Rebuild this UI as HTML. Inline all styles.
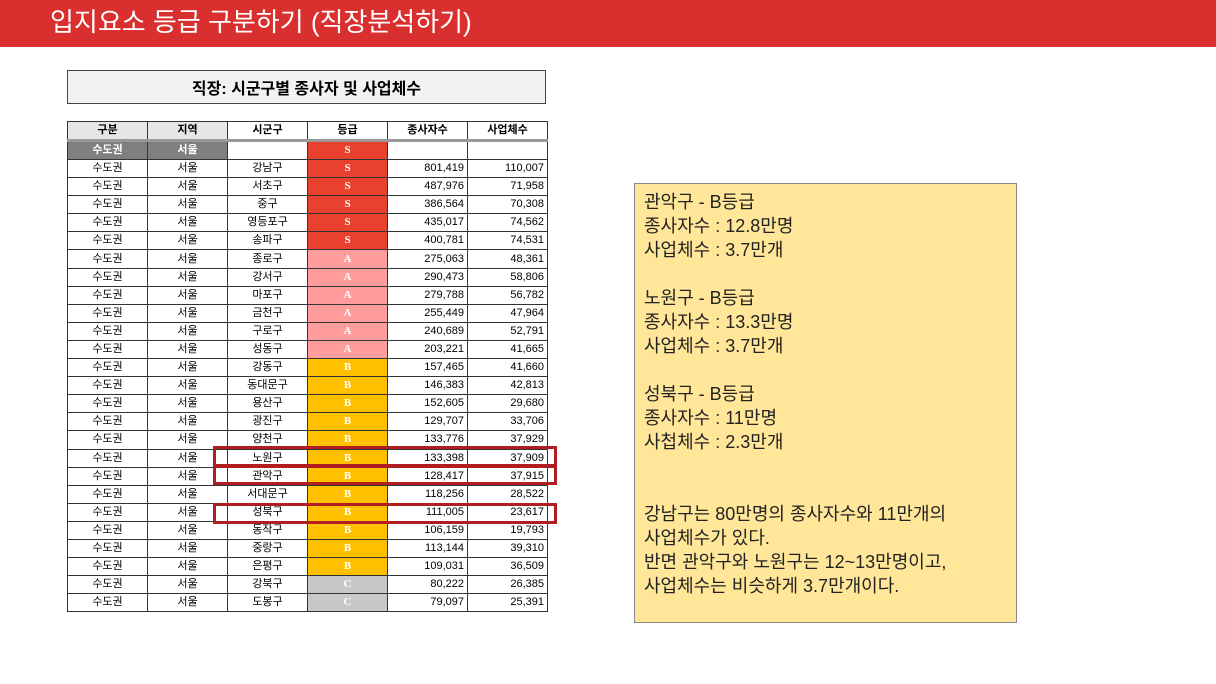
<!DOCTYPE html>
<html><head><meta charset="utf-8"><style>
body{margin:0;width:1216px;height:684px;background:#fff;position:relative;overflow:hidden;font-family:"Liberation Sans","Noto Sans CJK KR",sans-serif}
.bar{position:absolute;left:0;top:0;width:1216px;height:47px;background:#d9302f;color:#fff;font-size:26px;line-height:44px;padding-left:50px;box-sizing:border-box}
.title{position:absolute;left:67px;top:70px;width:479px;height:34px;border:1px solid #444;background:#f2f2f2;text-align:center;font-weight:bold;font-size:16px;line-height:38px;box-sizing:border-box}
table{position:absolute;left:67px;top:121px;border-collapse:collapse;font-size:11px;table-layout:fixed;width:480px}
td{width:80px;box-sizing:border-box;height:18.1px;border:1px solid #333;padding:0 3px;text-align:center;white-space:nowrap;overflow:hidden;line-height:17px}
td.n{text-align:right}
tr.h td{background:#e7e6e6;font-weight:bold;height:19px;border-bottom:3px solid #999}
tr.h td.w{background:#fff}
td.g{color:#fff;font-weight:bold;font-family:"Liberation Serif",serif}
.S{background:#e8412f}.A{background:#ff9c9c}.B{background:#ffc000}.C{background:#c8c8c8}
tr.s td.k{background:#7f7f7f;color:#fff;font-weight:bold}
.box{position:absolute;border:3px solid #b01e22;box-sizing:border-box}
.note{position:absolute;left:634px;top:183px;width:383px;height:440px;background:#ffe699;border:1px solid #888;box-sizing:border-box;padding:6px 9px;font-size:18px;line-height:24px;color:#222}
</style></head><body>
<div class="bar">입지요소 등급 구분하기 (직장분석하기)</div>
<div class="title">직장: 시군구별 종사자 및 사업체수</div>
<table>
<colgroup><col style="width:80px"><col style="width:80px"><col style="width:80px"><col style="width:80px"><col style="width:80px"><col style="width:80px"></colgroup>
<tr class="h"><td>구분</td><td>지역</td><td class="w">시군구</td><td class="w">등급</td><td class="w">종사자수</td><td class="w">사업체수</td></tr>
<tr class="s"><td class="k">수도권</td><td class="k">서울</td><td></td><td class="g S">S</td><td></td><td></td></tr>
<tr><td>수도권</td><td>서울</td><td>강남구</td><td class="g S">S</td><td class="n">801,419</td><td class="n">110,007</td></tr>
<tr><td>수도권</td><td>서울</td><td>서초구</td><td class="g S">S</td><td class="n">487,976</td><td class="n">71,958</td></tr>
<tr><td>수도권</td><td>서울</td><td>중구</td><td class="g S">S</td><td class="n">386,564</td><td class="n">70,308</td></tr>
<tr><td>수도권</td><td>서울</td><td>영등포구</td><td class="g S">S</td><td class="n">435,017</td><td class="n">74,562</td></tr>
<tr><td>수도권</td><td>서울</td><td>송파구</td><td class="g S">S</td><td class="n">400,781</td><td class="n">74,531</td></tr>
<tr><td>수도권</td><td>서울</td><td>종로구</td><td class="g A">A</td><td class="n">275,063</td><td class="n">48,361</td></tr>
<tr><td>수도권</td><td>서울</td><td>강서구</td><td class="g A">A</td><td class="n">290,473</td><td class="n">58,806</td></tr>
<tr><td>수도권</td><td>서울</td><td>마포구</td><td class="g A">A</td><td class="n">279,788</td><td class="n">56,782</td></tr>
<tr><td>수도권</td><td>서울</td><td>금천구</td><td class="g A">A</td><td class="n">255,449</td><td class="n">47,964</td></tr>
<tr><td>수도권</td><td>서울</td><td>구로구</td><td class="g A">A</td><td class="n">240,689</td><td class="n">52,791</td></tr>
<tr><td>수도권</td><td>서울</td><td>성동구</td><td class="g A">A</td><td class="n">203,221</td><td class="n">41,665</td></tr>
<tr><td>수도권</td><td>서울</td><td>강동구</td><td class="g B">B</td><td class="n">157,465</td><td class="n">41,660</td></tr>
<tr><td>수도권</td><td>서울</td><td>동대문구</td><td class="g B">B</td><td class="n">146,383</td><td class="n">42,813</td></tr>
<tr><td>수도권</td><td>서울</td><td>용산구</td><td class="g B">B</td><td class="n">152,605</td><td class="n">29,680</td></tr>
<tr><td>수도권</td><td>서울</td><td>광진구</td><td class="g B">B</td><td class="n">129,707</td><td class="n">33,706</td></tr>
<tr><td>수도권</td><td>서울</td><td>양천구</td><td class="g B">B</td><td class="n">133,776</td><td class="n">37,929</td></tr>
<tr><td>수도권</td><td>서울</td><td>노원구</td><td class="g B">B</td><td class="n">133,398</td><td class="n">37,909</td></tr>
<tr><td>수도권</td><td>서울</td><td>관악구</td><td class="g B">B</td><td class="n">128,417</td><td class="n">37,915</td></tr>
<tr><td>수도권</td><td>서울</td><td>서대문구</td><td class="g B">B</td><td class="n">118,256</td><td class="n">28,522</td></tr>
<tr><td>수도권</td><td>서울</td><td>성북구</td><td class="g B">B</td><td class="n">111,005</td><td class="n">23,617</td></tr>
<tr><td>수도권</td><td>서울</td><td>동작구</td><td class="g B">B</td><td class="n">106,159</td><td class="n">19,793</td></tr>
<tr><td>수도권</td><td>서울</td><td>중랑구</td><td class="g B">B</td><td class="n">113,144</td><td class="n">39,310</td></tr>
<tr><td>수도권</td><td>서울</td><td>은평구</td><td class="g B">B</td><td class="n">109,031</td><td class="n">36,509</td></tr>
<tr><td>수도권</td><td>서울</td><td>강북구</td><td class="g C">C</td><td class="n">80,222</td><td class="n">26,385</td></tr>
<tr><td>수도권</td><td>서울</td><td>도봉구</td><td class="g C">C</td><td class="n">79,097</td><td class="n">25,391</td></tr>
</table>
<div class="box" style="left:213px;top:446px;width:344px;height:21px"></div>
<div class="box" style="left:213px;top:465px;width:344px;height:20px"></div>
<div class="box" style="left:213px;top:503px;width:344px;height:21px"></div>
<div class="note">관악구 - B등급<br>종사자수 : 12.8만명<br>사업체수 : 3.7만개<br><br>노원구 - B등급<br>종사자수 : 13.3만명<br>사업체수 : 3.7만개<br><br>성북구 - B등급<br>종사자수 : 11만명<br>사첩체수 : 2.3만개<br><br><br>강남구는 80만명의 종사자수와 11만개의<br>사업체수가 있다.<br>반면 관악구와 노원구는 12~13만명이고,<br>사업체수는 비슷하게 3.7만개이다.</div>
</body></html>
